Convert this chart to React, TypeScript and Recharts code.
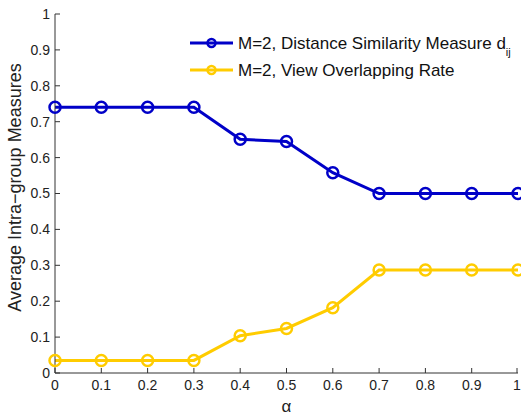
import { LineChart, Line, XAxis, YAxis } from 'recharts';

const alphas = [0, 0.1, 0.2, 0.3, 0.4, 0.5, 0.6, 0.7, 0.8, 0.9, 1];
const distanceSimilarity = [0.74, 0.74, 0.74, 0.74, 0.651, 0.645, 0.558, 0.5, 0.5, 0.5, 0.5];
const viewOverlapping = [0.035, 0.035, 0.035, 0.035, 0.104, 0.124, 0.182, 0.287, 0.287, 0.287, 0.287];
const ticks = [0, 0.1, 0.2, 0.3, 0.4, 0.5, 0.6, 0.7, 0.8, 0.9, 1];

const BLUE = '#0000c8';
const YELLOW = '#ffcc00';
const FONT = 'Liberation Sans, Arial, sans-serif';

const data = alphas.map((a, i) => ({
  alpha: a,
  dist: distanceSimilarity[i],
  view: viewOverlapping[i],
}));

const fmt = (v: number) => (v === 0 || v === 1 ? String(v) : v.toFixed(1));

// MATLAB style ticks point into the plot
const XTick = (props: any) => {
  const { x, y, payload } = props;
  return (
    <g>
      <line x1={x} x2={x} y1={y - 7} y2={y - 12} stroke="#333" />
      <text x={x} y={y} dy="0.71em" textAnchor="middle" fontSize={14} fill="#222" fontFamily={FONT}>
        {fmt(payload.value)}
      </text>
    </g>
  );
};

const YTick = (props: any) => {
  const { x, y, payload } = props;
  return (
    <g>
      <line x1={x + 5} x2={x + 10} y1={y} y2={y} stroke="#333" />
      <text x={x} y={y} dy="0.355em" textAnchor="end" fontSize={14} fill="#222" fontFamily={FONT}>
        {fmt(payload.value)}
      </text>
    </g>
  );
};

const YLabel = (props: any) => {
  const { viewBox } = props;
  const x = viewBox.x + 21;
  const y = viewBox.y + viewBox.height / 2 - 6;
  return (
    <text
      x={x}
      y={y}
      transform={`rotate(-90 ${x} ${y})`}
      textAnchor="middle"
      fontSize={18}
      fill="#222"
      fontFamily={FONT}
    >
      Average Intra−group Measures
    </text>
  );
};

const legendRows = [
  { color: BLUE, label: 'M=2, Distance Similarity Measure d', sub: 'ij' },
  { color: YELLOW, label: 'M=2, View Overlapping Rate', sub: '' },
];

const LegendBox = () => (
  <svg width={330} height={60} style={{ position: 'absolute', left: 190, top: 30 }}>
    {legendRows.map((r, i) => {
      const cy = 13 + i * 27;
      return (
        <g key={i}>
          <line x1={0} x2={43} y1={cy} y2={cy} stroke={r.color} strokeWidth={3} />
          <circle cx={21.5} cy={cy} r={4} fill="none" stroke={r.color} strokeWidth={2.5} />
          <text x={48} y={cy} dy="0.355em" fontSize={17} fill="#111" fontFamily={FONT}>
            {r.label}
            {r.sub && (
              <tspan fontSize={11} dy={7}>
                {r.sub}
              </tspan>
            )}
          </text>
        </g>
      );
    })}
  </svg>
);

export default function App() {
  return (
    <div style={{ position: 'absolute', left: 0, top: 0, width: 521, height: 416, background: '#fff' }}>
      <LineChart width={521} height={416} data={data} margin={{ top: 14, right: 3, bottom: 0, left: 0 }}>
        <XAxis
          dataKey="alpha"
          type="number"
          domain={[0, 1]}
          ticks={ticks}
          tick={<XTick />}
          tickSize={0}
          tickMargin={7}
          height={43}
          stroke="#333"
          label={{ value: 'α', position: 'insideBottom', offset: 4, fontSize: 17, fill: '#222', fontFamily: FONT }}
        />
        <YAxis
          type="number"
          domain={[0, 1]}
          ticks={ticks}
          tick={<YTick />}
          tickSize={0}
          tickMargin={5}
          width={55}
          stroke="#333"
          label={<YLabel />}
        />
        <Line
          dataKey="dist"
          stroke={BLUE}
          strokeWidth={3}
          dot={{ r: 5.5, fill: 'none', stroke: BLUE, strokeWidth: 2.5 }}
          isAnimationActive={false}
        />
        <Line
          dataKey="view"
          stroke={YELLOW}
          strokeWidth={3}
          dot={{ r: 5.5, fill: 'none', stroke: YELLOW, strokeWidth: 2.5 }}
          isAnimationActive={false}
        />
      </LineChart>
      <LegendBox />
    </div>
  );
}
